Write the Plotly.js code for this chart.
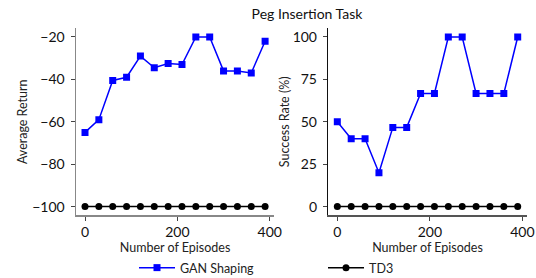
<!DOCTYPE html>
<html>
<head>
<meta charset="utf-8">
<script src="https://cdn.plot.ly/plotly-3.0.1.min.js"></script>
<style>html,body{margin:0;padding:0;background:#fff;}#chart{width:536px;height:278px;}</style>
</head>
<body>
<div id="chart"></div>
<script>
const episodes = [0, 30, 60, 90, 120, 150, 180, 210, 240, 270, 300, 330, 360, 390];
const ganReturn = [-65, -59, -40.5, -39, -29, -34.5, -32.5, -33, -20, -20, -36, -36, -37, -22];
const td3Return = [-100, -100, -100, -100, -100, -100, -100, -100, -100, -100, -100, -100, -100, -100];
const ganSuccess = [50, 40, 40, 20, 46.7, 46.7, 66.7, 66.7, 100, 100, 66.7, 66.7, 66.7, 100];
const td3Success = [0, 0, 0, 0, 0, 0, 0, 0, 0, 0, 0, 0, 0, 0];
const returnTicks = [-100, -80, -60, -40, -20];
const successTicks = [0, 25, 50, 75, 100];
const xTicks = [0, 200, 400];

const FONT = 'Lato, "Open Sans", sans-serif';
const blue = '#0000ff';
const gan = {mode: 'lines+markers', line: {color: blue, width: 1.5}, marker: {symbol: 'square', size: 7, color: blue}};
const td3 = {mode: 'lines+markers', line: {color: '#000', width: 1.5}, marker: {symbol: 'circle', size: 7, color: '#000'}};

const data = [
  Object.assign({x: episodes, y: ganReturn, name: 'GAN Shaping', xaxis: 'x', yaxis: 'y', legendgroup: 'g'}, gan),
  Object.assign({x: episodes, y: td3Return, name: 'TD3', xaxis: 'x', yaxis: 'y', legendgroup: 't'}, td3),
  Object.assign({x: episodes, y: ganSuccess, name: 'GAN Shaping', xaxis: 'x2', yaxis: 'y2', showlegend: false, legendgroup: 'g'}, gan),
  Object.assign({x: episodes, y: td3Success, name: 'TD3', xaxis: 'x2', yaxis: 'y2', showlegend: false, legendgroup: 't'}, td3)
];

function xax(domain, anchor, lc) {
  return {domain: domain, anchor: anchor, range: [-19.5, 409.5], tickvals: xTicks, ticktext: xTicks.map(String),
    showgrid: false, zeroline: false, showline: true, linecolor: lc, linewidth: 1.5, automargin: false,
    ticks: 'outside', ticklen: 4, tickwidth: 1, tickcolor: '#444',
    tickfont: {family: FONT, size: 14, color: '#111'},
    title: {text: 'Number of Episodes', font: {family: FONT, size: 12.5, color: '#222'}, standoff: 2}};
}
function yax(domain, anchor, range, ticks, title, lc, so) {
  return {domain: domain, anchor: anchor, range: range, tickvals: ticks,
    showgrid: false, zeroline: false, showline: true, linecolor: lc, linewidth: 1.5, automargin: false,
    ticks: 'outside', ticklen: 4, tickwidth: 1, tickcolor: '#444', ticklabelstandoff: 3,
    tickfont: {family: FONT, size: 14, color: '#111'},
    title: {text: title, font: {family: FONT, size: 12.5, color: '#222'}, standoff: so}};
}

const yd = [0.2263, 0.8975];
const layout = {
  width: 536, height: 278,
  margin: {l: 0, r: 0, t: 0, b: 0, autoexpand: false},
  paper_bgcolor: '#fff', plot_bgcolor: '#fff',
  font: {family: FONT},
  title: {text: 'Peg Insertion Task', font: {family: FONT, size: 14, color: '#111'}, x: 307 / 536, xanchor: 'center', y: 1 - 14 / 278, yanchor: 'middle'},
  xaxis: xax([0.1418, 0.5114], 'y', '#888'),
  yaxis: yax(yd, 'x', [-104, -16], returnTicks, 'Average Return', '#888', 2),
  xaxis2: xax([0.6125, 0.9827], 'y2', '#555'),
  yaxis2: yax(yd, 'x2', [-5, 105], successTicks, 'Success Rate (%)', '#111', 0),
  showlegend: true,
  legend: {orientation: 'h', x: 134 / 536, xanchor: 'left', y: 10 / 278, yanchor: 'middle',
    entrywidth: 138, entrywidthmode: 'pixels', itemwidth: 36,
    font: {family: FONT, size: 12.5, color: '#222'}, bgcolor: 'rgba(0,0,0,0)'}
};

Plotly.newPlot('chart', data, layout, {staticPlot: true, displayModeBar: false});
</script>
</body>
</html>
